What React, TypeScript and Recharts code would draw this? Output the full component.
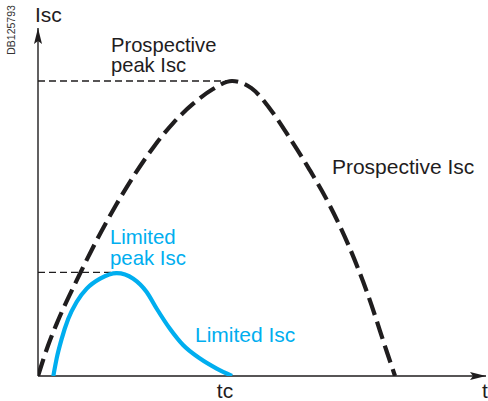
import React from "react";
import { LineChart, Line, XAxis, YAxis, ReferenceLine, ReferenceDot } from "recharts";

// time (tc = 10), current (% of prospective peak)
const prospectiveT = [0, 0.5, 1, 2, 3, 4, 5, 6, 7, 8, 9, 10, 11, 12, 13, 14, 15, 16, 17, 18, 18.4];
const prospectiveI = [0, 10.0, 18.3, 32.5, 45.7, 57.7, 68.5, 78.0, 86.0, 92.3, 97.2, 100, 97.6, 90.2, 80.4, 69.9, 58.3, 44.4, 27.6, 7.8, 0];
const limitedT = [0.79, 0.96, 1.22, 1.56, 1.99, 2.51, 3.2, 4.06, 4.91, 5.6, 6.12, 6.8, 7.49, 8.35, 9.21, 10];
const limitedI = [0, 5.9, 12.6, 19.4, 25.1, 29.6, 33.0, 34.9, 33.0, 28.5, 22.8, 16.0, 10.4, 5.9, 2.5, 0];

const T_MAX = 23.09;
const I_MAX = 117.97;
const TC = 10;
const PROSPECTIVE_PEAK = 100;
const LIMITED_PEAK_T = 4.06;
const LIMITED_PEAK = 35.1;

const BLACK = "#1f1d1e";
const CYAN = "#00aeef";

const prospective = prospectiveT.map((t, i) => ({ t, v: prospectiveI[i] }));
const limited = limitedT.map((t, i) => ({ t, v: limitedI[i] }));

type Ann = { text: string; t: number; v: number; color: string; anchor?: string; size?: number; rotate?: boolean };
const annotations: Ann[] = [
  { text: "Isc", t: -0.155, v: 120.0, color: BLACK },
  { text: "Prospective", t: 3.76, v: 109.7, color: BLACK, size: 20.2 },
  { text: "peak Isc", t: 3.76, v: 102.9, color: BLACK, size: 20.2 },
  { text: "Prospective Isc", t: 15.15, v: 68.5, color: BLACK },
  { text: "Limited", t: 3.71, v: 44.6, color: CYAN, size: 20.4 },
  { text: "peak Isc", t: 3.71, v: 37.7, color: CYAN, size: 20.4 },
  { text: "Limited Isc", t: 8.09, v: 11.5, color: CYAN },
  { text: "tc", t: 9.64, v: -7.5, color: BLACK, anchor: "middle" },
  { text: "t", t: 22.89, v: -7.5, color: BLACK },
  { text: "DB125793", t: -1.16, v: 117.3, color: "#333", anchor: "middle", size: 10.5, rotate: true },
];

const FONT = "'Liberation Sans', Arial, sans-serif";

export default function App() {
  return (
    <div style={{ position: "absolute", left: 0, top: 0, width: 488, height: 401, background: "#fff" }}>
      <LineChart width={488} height={401} margin={{ top: 28, right: 2, bottom: 25, left: 38 }}>
        <XAxis type="number" dataKey="t" domain={[0, T_MAX]} hide allowDataOverflow />
        <YAxis type="number" dataKey="v" domain={[0, I_MAX]} hide allowDataOverflow />
        <ReferenceLine
          segment={[{ x: 0, y: PROSPECTIVE_PEAK }, { x: TC, y: PROSPECTIVE_PEAK }]}
          stroke={BLACK}
          strokeWidth={1.3}
          strokeDasharray="7 4"
        />
        <ReferenceLine
          segment={[{ x: 0, y: LIMITED_PEAK }, { x: LIMITED_PEAK_T, y: LIMITED_PEAK }]}
          stroke={BLACK}
          strokeWidth={1.3}
          strokeDasharray="7 4"
        />
        <ReferenceLine x={0} stroke={BLACK} strokeWidth={1.4} />
        <ReferenceLine y={0} stroke={BLACK} strokeWidth={1.4} />
        <ReferenceDot
          x={0}
          y={I_MAX}
          ifOverflow="visible"
          shape={(p: any) => (
            <path d={`M${p.cx},${p.cy} L${p.cx - 4},${p.cy + 16} L${p.cx},${p.cy + 13} L${p.cx + 4},${p.cy + 16} Z`} fill={BLACK} />
          )}
        />
        <ReferenceDot
          x={T_MAX}
          y={0}
          ifOverflow="visible"
          shape={(p: any) => (
            <path d={`M${p.cx},${p.cy} L${p.cx - 16},${p.cy - 4} L${p.cx - 13},${p.cy} L${p.cx - 16},${p.cy + 4} Z`} fill={BLACK} />
          )}
        />
        <Line
          data={prospective}
          dataKey="v"
          type="monotone"
          stroke={BLACK}
          strokeWidth={4.2}
          strokeDasharray="18 7"
          dot={false}
          activeDot={false}
          isAnimationActive={false}
        />
        <Line
          data={limited}
          dataKey="v"
          type="monotone"
          stroke={CYAN}
          strokeWidth={4.2}
          dot={false}
          activeDot={false}
          isAnimationActive={false}
        />
        {annotations.map((a, i) => (
          <ReferenceDot
            key={i}
            x={a.t}
            y={a.v}
            ifOverflow="visible"
            shape={(p: any) => (
              <text
                x={p.cx}
                y={p.cy}
                fill={a.color}
                fontSize={a.size ?? 21}
                fontFamily={FONT}
                textAnchor={a.anchor ?? "start"}
                transform={a.rotate ? `rotate(-90 ${p.cx} ${p.cy})` : undefined}
              >
                {a.text}
              </text>
            )}
          />
        ))}
      </LineChart>
    </div>
  );
}
